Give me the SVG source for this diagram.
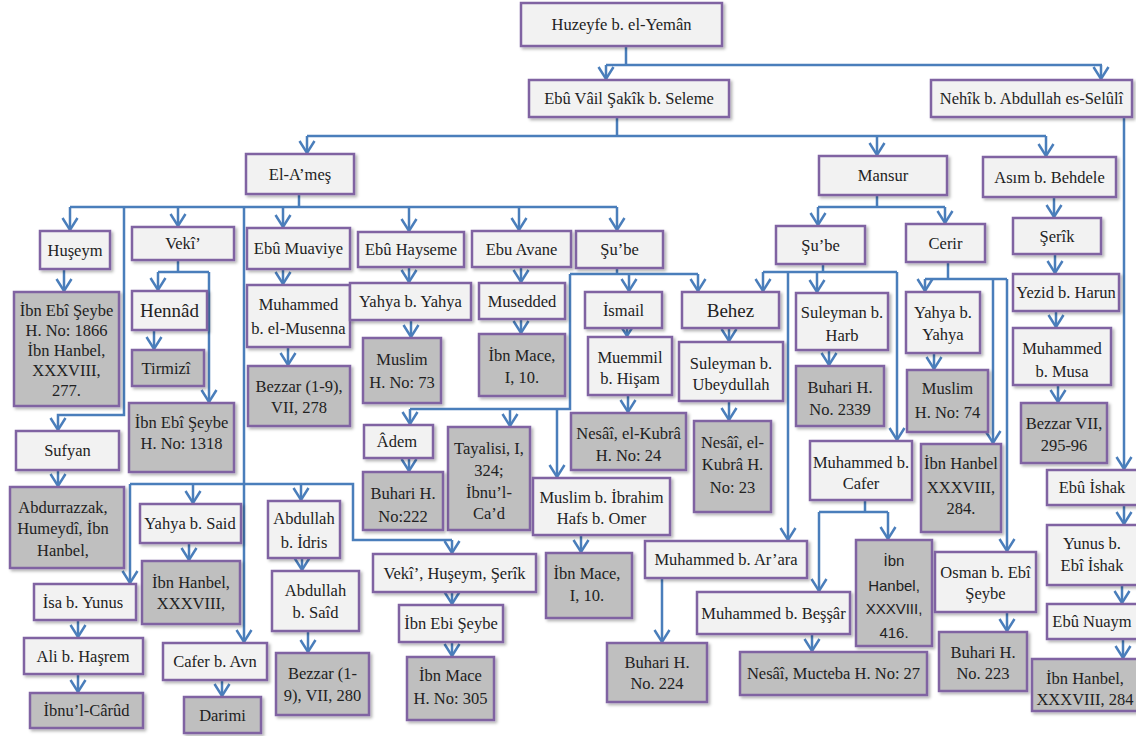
<svg xmlns="http://www.w3.org/2000/svg" width="1136" height="736" viewBox="0 0 1136 736">
<defs>
<style>
.l rect{fill:#f2f2f2;stroke:#8064a2;stroke-width:2.5;filter:url(#sh)}
.g rect{fill:#bfbfbf;stroke:#8064a2;stroke-width:2.5;filter:url(#sh)}
text{font-family:"Liberation Serif","Times New Roman",serif;font-size:16.5px;fill:#222222;text-anchor:middle}
.big{font-size:19px}
.sans{font-family:"Liberation Sans",Arial,sans-serif;font-size:15px}
.ln{fill:none;stroke:#4a7ebb;stroke-width:2.5}
.ar{fill:none;stroke:#4a7ebb;stroke-width:2.5;marker-end:url(#arr)}
</style>
<filter id="sh" x="-10%" y="-10%" width="130%" height="140%">
<feDropShadow dx="2" dy="2" stdDeviation="1.5" flood-color="#000" flood-opacity="0.3"/>
</filter>
<marker id="arr" markerUnits="userSpaceOnUse" markerWidth="18" markerHeight="20" viewBox="-16 -10 18 20" refX="0" refY="0" orient="auto">
<path d="M-13,-7.5 L-1,0 L-13,7.5" fill="none" stroke="#4a7ebb" stroke-width="2.5"/>
</marker>
</defs>
<rect width="1136" height="736" fill="#ffffff"/>

<g id="connectors">
<path class="ln" d="M626,46 V65 M606,65 H1102"/>
<path class="ar" d="M606,65 V80"/>
<path class="ar" d="M1101,65 V80"/>
<path class="ln" d="M617,117 V136 M307,136 H1046"/>
<path class="ar" d="M307,136 V154"/>
<path class="ar" d="M877,136 V156"/>
<path class="ar" d="M1046,136 V157"/>
<path class="ln" d="M299,194 V207 M70,207 H617"/>
<path class="ar" d="M70,207 V231"/>
<path class="ar" d="M178,207 V227"/>
<path class="ar" d="M283,207 V228"/>
<path class="ar" d="M409,207 V232"/>
<path class="ar" d="M519,207 V231"/>
<path class="ar" d="M617,207 V231"/>
<path class="ar" d="M124,207 V415 H58 V431"/>
<path class="ar" d="M244,207 V643"/>
<path class="ln" d="M130,484 H353 V540 H452"/>
<path class="ar" d="M130,484 V584"/>
<path class="ar" d="M193,484 V504"/>
<path class="ar" d="M301,484 V501"/>
<path class="ar" d="M452,540 V554"/>
<path class="ar" d="M64,269 V292"/>
<path class="ar" d="M58,470 V487"/>
<path class="ln" d="M178,260 V272 M158,272 H209"/>
<path class="ar" d="M158,272 V291"/>
<path class="ar" d="M209,272 V403"/>
<path class="ar" d="M154,330 V350"/>
<path class="ar" d="M283,269 V285"/>
<path class="ar" d="M288,347 V366"/>
<path class="ar" d="M409,267 V283"/>
<path class="ar" d="M411,320 V338"/>
<path class="ar" d="M521,267 V283"/>
<path class="ar" d="M521,319 V334"/>
<path class="ln" d="M617,268 V274 M570,274 H698 M570,274 V409 H410"/>
<path class="ar" d="M629,274 V292"/>
<path class="ar" d="M698,274 V292"/>
<path class="ar" d="M410,409 V425"/>
<path class="ar" d="M510,409 V427"/>
<path class="ar" d="M557,409 V478"/>
<path class="ar" d="M627,328 V337"/>
<path class="ar" d="M628,395 V413"/>
<path class="ar" d="M729,328 V342"/>
<path class="ar" d="M729,401 V421"/>
<path class="ar" d="M409,458 V472"/>
<path class="ar" d="M452,592 V605"/>
<path class="ar" d="M452,642 V657"/>
<path class="ar" d="M581,535 V553"/>
<path class="ar" d="M189,543 V561"/>
<path class="ar" d="M78,620 V638"/>
<path class="ar" d="M78,674 V693"/>
<path class="ar" d="M222,680 V697"/>
<path class="ar" d="M302,558 V571"/>
<path class="ar" d="M308,631 V653"/>
<path class="ln" d="M877,195 V207 M818,207 H945"/>
<path class="ar" d="M818,207 V226"/>
<path class="ar" d="M945,207 V224"/>
<path class="ln" d="M823,264 V272 M763,272 H897"/>
<path class="ar" d="M763,272 V292"/>
<path class="ar" d="M817,272 V293"/>
<path class="ar" d="M788,272 V541"/>
<path class="ar" d="M897,272 V441"/>
<path class="ar" d="M829,350 V366"/>
<path class="ln" d="M948,262 V279 M925,279 H1007"/>
<path class="ar" d="M925,279 V292"/>
<path class="ar" d="M993,279 V444"/>
<path class="ar" d="M1007,279 V552"/>
<path class="ar" d="M934,353 V370"/>
<path class="ln" d="M865,500 V512 M819,512 H888"/>
<path class="ar" d="M819,512 V592"/>
<path class="ar" d="M888,512 V540"/>
<path class="ar" d="M812,634 V652"/>
<path class="ar" d="M662,578 V643"/>
<path class="ar" d="M1007,612 V632"/>
<path class="ar" d="M1054,197 V218"/>
<path class="ar" d="M1055,254 V274"/>
<path class="ar" d="M1056,311 V328"/>
<path class="ar" d="M1058,385 V403"/>
<path class="ar" d="M1124,117 V470"/>
<path class="ar" d="M1124,505 V525"/>
<path class="ar" d="M1122,585 V604"/>
<path class="ar" d="M1123,639 V659"/>
</g>

<g id="n-huzeyfe" class="l"><rect x="521" y="3" width="201" height="43"/><text x="621.5" y="30">Huzeyfe b. el-Yemân</text></g>
<g id="n-ebuvail" class="l"><rect x="529" y="80" width="200" height="37"/><text x="629" y="104">Ebû Vâil Şakîk b. Seleme</text></g>
<g id="n-nehik" class="l"><rect x="931" y="80" width="201" height="37"/><text x="1031.5" y="104">Nehîk b. Abdullah es-Selûlî</text></g>
<g id="n-ames" class="l"><rect x="246" y="154" width="108" height="40"/><text x="300" y="179.5">El-A’meş</text></g>
<g id="n-mansur" class="l"><rect x="819" y="156" width="128" height="39"/><text x="883" y="181">Mansur</text></g>
<g id="n-asim" class="l"><rect x="983" y="157" width="133" height="40"/><text x="1049.5" y="182.5">Asım b. Behdele</text></g>
<g id="n-huseym" class="l"><rect x="40" y="231" width="70" height="38"/><text x="75" y="255.5">Huşeym</text></g>
<g id="n-veki" class="l"><rect x="132" y="227" width="102" height="33"/><text x="183" y="249">Vekî’</text></g>
<g id="n-ebumuaviye" class="l"><rect x="247" y="228" width="103" height="41"/><text x="298.5" y="254">Ebû Muaviye</text></g>
<g id="n-ebuhayseme" class="l"><rect x="358" y="232" width="106" height="35"/><text x="411" y="255">Ebû Hayseme</text></g>
<g id="n-ebuavane" class="l"><rect x="472" y="231" width="99" height="36"/><text x="521.5" y="254.5">Ebu Avane</text></g>
<g id="n-sube-1" class="l"><rect x="576" y="231" width="87" height="37"/><text x="619.5" y="255">Şu’be</text></g>
<g id="n-sube-2" class="l"><rect x="776" y="226" width="89" height="38"/><text x="820.5" y="250.5">Şu’be</text></g>
<g id="n-cerir" class="l"><rect x="906" y="224" width="79" height="38"/><text x="945.5" y="248.5">Cerir</text></g>
<g id="n-serik" class="l"><rect x="1013" y="218" width="88" height="36"/><text x="1057" y="241.5">Şerîk</text></g>
<g id="n-ies1866" class="g"><rect x="14" y="292" width="105" height="114"/><text><tspan x="66.5" y="316">İbn Ebî Şeybe</tspan><tspan x="66.5" y="336">H. No: 1866</tspan><tspan x="66.5" y="356">İbn Hanbel,</tspan><tspan x="66.5" y="376">XXXVIII,</tspan><tspan x="66.5" y="396">277.</tspan></text></g>
<g id="n-hennad" class="l"><rect x="132" y="291" width="75" height="39"/><text class="big" x="169.5" y="317">Hennâd</text></g>
<g id="n-tirmizi" class="g"><rect x="132" y="350" width="72" height="36"/><text x="166" y="373.5">Tirmizî</text></g>
<g id="n-ies1318" class="g"><rect x="129" y="403" width="105" height="69"/><text><tspan x="181.5" y="428">İbn Ebî Şeybe</tspan><tspan x="181.5" y="449">H. No: 1318</tspan></text></g>
<g id="n-musenna" class="l"><rect x="247" y="285" width="103" height="62"/><text><tspan x="298.5" y="309.5">Muhammed</tspan><tspan x="298.5" y="333.5">b. el-Musenna</tspan></text></g>
<g id="n-bezzar278" class="g"><rect x="248" y="366" width="102" height="60"/><text><tspan x="299" y="391.5">Bezzar (1-9),</tspan><tspan x="299" y="412.5">VII, 278</tspan></text></g>
<g id="n-yahya-1" class="l"><rect x="350" y="283" width="121" height="37"/><text x="410.5" y="307">Yahya b. Yahya</text></g>
<g id="n-muslim73" class="g"><rect x="363" y="338" width="78" height="65"/><text><tspan x="402" y="364.5">Muslim</tspan><tspan x="402" y="387.5">H. No: 73</tspan></text></g>
<g id="n-musedded" class="l"><rect x="479" y="283" width="86" height="36"/><text x="522" y="306.5">Musedded</text></g>
<g id="n-ibnmace10-1" class="g"><rect x="479" y="334" width="86" height="62"/><text><tspan x="522" y="360.5">İbn Mace,</tspan><tspan x="522" y="382.5">I, 10.</tspan></text></g>
<g id="n-ismail" class="l"><rect x="585" y="292" width="77" height="36"/><text x="623.5" y="315.5">İsmail</text></g>
<g id="n-behez" class="l"><rect x="682" y="292" width="97" height="36"/><text class="big" x="730.5" y="317">Behez</text></g>
<g id="n-muemmil" class="l"><rect x="588" y="337" width="84" height="58"/><text><tspan x="630" y="362.5">Muemmil</tspan><tspan x="630" y="383.5">b. Hişam</tspan></text></g>
<g id="n-sulubeyd" class="l"><rect x="679" y="342" width="104" height="59"/><text><tspan x="731" y="368.5">Suleyman b.</tspan><tspan x="731" y="389.5">Ubeydullah</tspan></text></g>
<g id="n-nesai24" class="g"><rect x="571" y="413" width="115" height="57"/><text><tspan x="628.5" y="438.5">Nesâî, el-Kubrâ</tspan><tspan x="628.5" y="460.5">H. No: 24</tspan></text></g>
<g id="n-nesai23" class="g"><rect x="694" y="421" width="77" height="91"/><text><tspan x="732.5" y="447.5">Nesâî, el-</tspan><tspan x="732.5" y="469.5">Kubrâ H.</tspan><tspan x="732.5" y="492.5">No: 23</tspan></text></g>
<g id="n-sulharb" class="l"><rect x="796" y="293" width="92" height="57"/><text><tspan x="842" y="317.5">Suleyman b.</tspan><tspan x="842" y="340.5">Harb</tspan></text></g>
<g id="n-buhari2339" class="g"><rect x="796" y="366" width="88" height="60"/><text><tspan x="840" y="392.5">Buhari H.</tspan><tspan x="840" y="414.5">No. 2339</tspan></text></g>
<g id="n-yahya-2" class="l"><rect x="906" y="292" width="74" height="61"/><text><tspan x="943" y="317.5">Yahya b.</tspan><tspan x="943" y="339.5">Yahya</tspan></text></g>
<g id="n-muslim74" class="g"><rect x="907" y="370" width="81" height="62"/><text><tspan x="947.5" y="393.5">Muslim</tspan><tspan x="947.5" y="417.5">H. No: 74</tspan></text></g>
<g id="n-yezid" class="l"><rect x="1013" y="274" width="106" height="37"/><text x="1066" y="298">Yezid b. Harun</text></g>
<g id="n-musa" class="l"><rect x="1013" y="328" width="98" height="57"/><text><tspan x="1062" y="353.5">Muhammed</tspan><tspan x="1062" y="376.5">b. Musa</tspan></text></g>
<g id="n-bezzar295" class="g"><rect x="1021" y="403" width="86" height="60"/><text><tspan x="1064" y="428.5">Bezzar VII,</tspan><tspan x="1064" y="450.5">295-96</tspan></text></g>
<g id="n-sufyan" class="l"><rect x="16" y="431" width="103" height="39"/><text x="67.5" y="456">Sufyan</text></g>
<g id="n-adem" class="l"><rect x="364" y="425" width="69" height="33"/><text x="397" y="447">Âdem</text></g>
<g id="n-tayalisi" class="g"><rect x="448" y="427" width="82" height="103"/><text><tspan x="489" y="453.5">Tayalisi, I,</tspan><tspan x="489" y="475.5">324;</tspan><tspan x="489" y="497.5">İbnu’l-</tspan><tspan x="489" y="518.5">Ca’d</tspan></text></g>
<g id="n-buhari222" class="g"><rect x="363" y="472" width="80" height="58"/><text><tspan x="403" y="498.5">Buhari H.</tspan><tspan x="403" y="521.5">No:222</tspan></text></g>
<g id="n-muslimibrahim" class="l"><rect x="533" y="478" width="137" height="57"/><text><tspan x="601.5" y="502.5">Muslim b. İbrahim</tspan><tspan x="601.5" y="523.5">Hafs b. Omer</tspan></text></g>
<g id="n-muhcafer" class="l"><rect x="810" y="441" width="102" height="59"/><text><tspan x="861" y="467.5">Muhammed b.</tspan><tspan x="861" y="488.5">Cafer</tspan></text></g>
<g id="n-ibnhanbel284-1" class="g"><rect x="921" y="444" width="80" height="88"/><text><tspan x="961" y="468.5">İbn Hanbel</tspan><tspan x="961" y="492.5">XXXVIII,</tspan><tspan x="961" y="513.5">284.</tspan></text></g>
<g id="n-ebuishak" class="l"><rect x="1047" y="470" width="92" height="35"/><text x="1092" y="493">Ebû İshak</text></g>
<g id="n-abdurrazzak" class="g"><rect x="10" y="487" width="114" height="81"/><text><tspan x="63" y="512.5">Abdurrazzak,</tspan><tspan x="63" y="533.5">Humeydî, İbn</tspan><tspan x="63" y="555.5">Hanbel,</tspan></text></g>
<g id="n-yahyasaid" class="l"><rect x="140" y="504" width="101" height="39"/><text x="190" y="529">Yahya b. Said</text></g>
<g id="n-abdidris" class="l"><rect x="268" y="501" width="72" height="57"/><text><tspan x="304" y="523.5">Abdullah</tspan><tspan x="304" y="547.5">b. İdris</tspan></text></g>
<g id="n-yunus" class="l"><rect x="1047" y="525" width="92" height="60"/><text><tspan x="1092" y="548.5">Yunus b.</tspan><tspan x="1092" y="570.5">Ebî İshak</tspan></text></g>
<g id="n-muhammed-arara" class="l"><rect x="645" y="541" width="162" height="37"/><text x="726" y="565">Muhammed b. Ar’ara</text></g>
<g id="n-ibnhanbel416" class="g"><rect x="856" y="540" width="76" height="106"/><text class="sans"><tspan x="894" y="565.5">İbn</tspan><tspan x="894" y="590.5">Hanbel,</tspan><tspan x="894" y="613.5">XXXVIII,</tspan><tspan x="894" y="637.5">416.</tspan></text></g>
<g id="n-osman" class="l"><rect x="935" y="552" width="101" height="60"/><text><tspan x="985.5" y="577.5">Osman b. Ebî</tspan><tspan x="985.5" y="598.5">Şeybe</tspan></text></g>
<g id="n-ibnhanbel-xxxviii" class="g"><rect x="142" y="561" width="98" height="63"/><text><tspan x="191" y="587.5">İbn Hanbel,</tspan><tspan x="191" y="608.5">XXXVIII,</tspan></text></g>
<g id="n-ibnmace10-2" class="g"><rect x="546" y="553" width="86" height="65"/><text><tspan x="587" y="578.5">İbn Mace,</tspan><tspan x="587" y="600.5">I, 10.</tspan></text></g>
<g id="n-vhs" class="l"><rect x="373" y="554" width="163" height="38"/><text x="454.5" y="579">Vekî’, Huşeym, Şerîk</text></g>
<g id="n-abdsaid" class="l"><rect x="272" y="571" width="87" height="60"/><text><tspan x="315.5" y="595.5">Abdullah</tspan><tspan x="315.5" y="617.5">b. Saîd</tspan></text></g>
<g id="n-isa" class="l"><rect x="34" y="584" width="102" height="36"/><text x="83" y="607.5">İsa b. Yunus</text></g>
<g id="n-bessar" class="l"><rect x="697" y="592" width="153" height="42"/><text x="773.5" y="618.5">Muhammed b. Beşşâr</text></g>
<g id="n-ebunuaym" class="l"><rect x="1047" y="604" width="92" height="35"/><text x="1092" y="627">Ebû Nuaym</text></g>
<g id="n-ibnebiseybe" class="l"><rect x="399" y="605" width="104" height="37"/><text x="451" y="629">İbn Ebi Şeybe</text></g>
<g id="n-buhari223" class="g"><rect x="939" y="632" width="88" height="59"/><text><tspan x="983" y="657.5">Buhari H.</tspan><tspan x="983" y="678.5">No. 223</tspan></text></g>
<g id="n-alihasrem" class="l"><rect x="24" y="638" width="119" height="36"/><text x="83" y="661.5">Ali b. Haşrem</text></g>
<g id="n-buhari224" class="g"><rect x="607" y="643" width="100" height="59"/><text><tspan x="657" y="667.5">Buhari H.</tspan><tspan x="657" y="688.5">No. 224</tspan></text></g>
<g id="n-caferavn" class="l"><rect x="163" y="643" width="104" height="37"/><text x="215" y="667">Cafer b. Avn</text></g>
<g id="n-nesai27" class="g"><rect x="740" y="652" width="187" height="43"/><text x="833.5" y="679">Nesâî, Mucteba H. No: 27</text></g>
<g id="n-bezzar280" class="g"><rect x="276" y="653" width="93" height="62"/><text><tspan x="322.5" y="678.5">Bezzar (1-</tspan><tspan x="322.5" y="700.5">9), VII, 280</tspan></text></g>
<g id="n-ibnmace305" class="g"><rect x="407" y="657" width="87" height="63"/><text><tspan x="450.5" y="680.5">İbn Mace</tspan><tspan x="450.5" y="703.5">H. No: 305</tspan></text></g>
<g id="n-ibnhanbel284-2" class="g"><rect x="1032" y="659" width="108" height="52"/><text><tspan x="1085" y="683.5">İbn Hanbel,</tspan><tspan x="1085" y="704.5">XXXVIII, 284</tspan></text></g>
<g id="n-carud" class="g"><rect x="30" y="693" width="113" height="35"/><text x="86.5" y="716">İbnu’l-Cârûd</text></g>
<g id="n-darimi" class="g"><rect x="184" y="697" width="77" height="36"/><text x="222.5" y="720.5">Darimi</text></g>
</svg>
